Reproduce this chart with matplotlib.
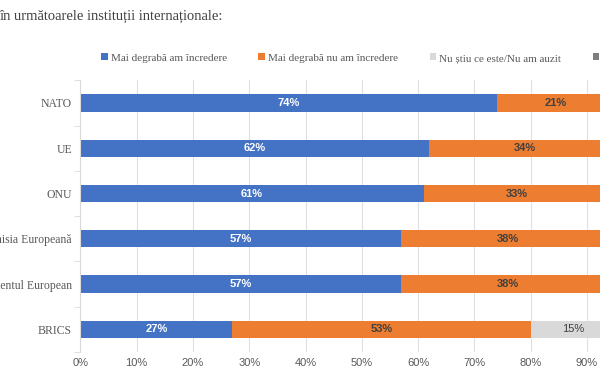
import matplotlib
matplotlib.use("Agg")
import matplotlib.pyplot as plt
from matplotlib.patches import Patch
import numpy as np

# ---------- data ----------
institutions = ["NATO", "UE", "ONU", "Comisia Europeană", "Parlamentul European", "BRICS"]
trust = [74, 62, 61, 57, 57, 27]
distrust = [21, 34, 33, 38, 38, 53]
dont_know = [3, 2, 3, 3, 3, 15]
no_answer = [2, 2, 3, 2, 2, 5]
series_labels = ["Mai degrabă am încredere", "Mai degrabă nu am încredere",
                 "Nu știu ce este/Nu am auzit", "Nu răspund"]
title = "în următoarele instituții internaționale:"

COLORS = ["#4472C4", "#ED7D31", "#D9D9D9", "#7F7F7F"]
LABEL_COLORS = ["white", "#404040", "#404040", "white"]
LABEL_WEIGHTS = ["bold", "bold", "normal", "normal"]
SERIF = ["Liberation Serif", "DejaVu Serif"]
SANS = ["Liberation Sans", "DejaVu Sans"]

fig = plt.figure(figsize=(6, 3.75), dpi=100)
ax = fig.add_axes([0.134, 0.0613, 0.938, 0.7245])

y = np.arange(len(institutions))
left = np.zeros(len(institutions))
for vals, col, lc, lw in zip([trust, distrust, dont_know, no_answer], COLORS, LABEL_COLORS, LABEL_WEIGHTS):
    vals = np.array(vals, dtype=float)
    ax.barh(y, vals, left=left, height=0.38, color=col, zorder=2)
    for yi, (l, v) in enumerate(zip(left, vals)):
        if v >= 10:
            ax.text(l + v / 2, yi, f"{int(v)}%", ha="center", va="center",
                    color=lc, fontsize=8, fontweight=lw, family=SANS, zorder=3)
    left += vals

ax.set_xlim(0, 100)
ax.set_ylim(len(institutions) - 0.5, -0.5)
ax.set_xticks(np.arange(0, 101, 10))
ax.set_xticklabels([f"{t}%" for t in range(0, 101, 10)], family=SANS, fontsize=8, color="#595959")
ax.set_yticks(y)
ax.set_yticklabels(institutions, family=SERIF, fontsize=8.5, color="#595959")
ax.set_yticks(np.arange(len(institutions) + 1) - 0.5, minor=True)
ax.tick_params(axis="y", which="major", length=0, pad=6)
ax.tick_params(axis="y", which="minor", length=4, color="#D9D9D9")
ax.tick_params(axis="x", length=0, pad=4)
ax.grid(axis="x", color="#E0E0E0", linewidth=0.8, zorder=0)
for s in ["top", "right", "bottom"]:
    ax.spines[s].set_visible(False)
ax.spines["left"].set_color("#D9D9D9")

handles = [Patch(facecolor=c, edgecolor="none") for c in COLORS]
fig.legend(handles, series_labels, loc="center left", bbox_to_anchor=(0.152, 0.845),
           ncol=4, frameon=False, handlelength=0.6, handleheight=0.6, handletextpad=0.25,
           columnspacing=2.85, prop={"family": SERIF, "size": 8}, labelcolor="#595959")

fig.text(-0.002, 0.955, title, ha="left", va="center", family=SERIF, fontsize=10.5, color="#404040")

fig.savefig("out.png", dpi=100)
